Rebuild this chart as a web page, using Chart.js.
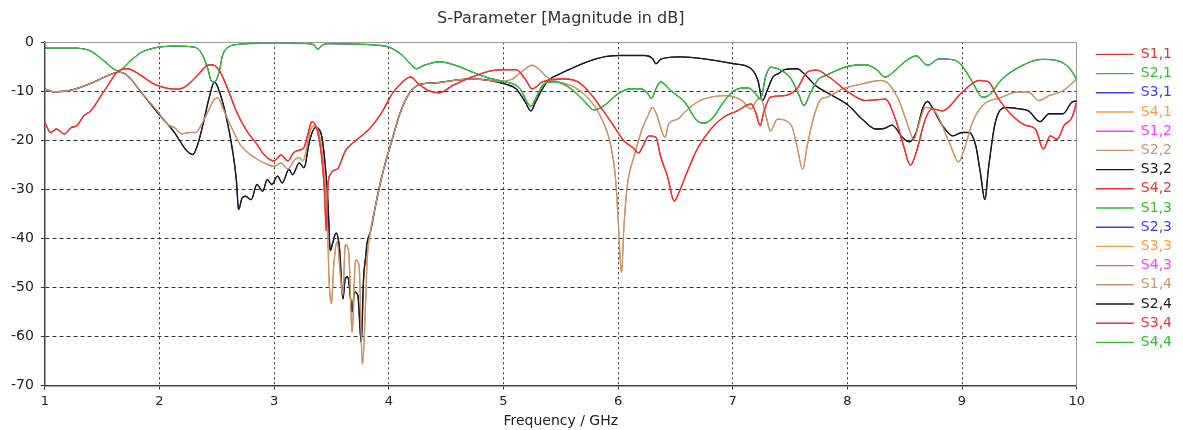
<!DOCTYPE html>
<html>
<head>
<meta charset="utf-8">
<title>S-Parameter [Magnitude in dB]</title>
<script src="https://cdn.jsdelivr.net/npm/chart.js@4.4.1/dist/chart.umd.min.js"></script>
<style>
  html, body { margin: 0; padding: 0; background: #fff; }
  #wrap { width: 1183px; height: 430px; }
</style>
</head>
<body>
<div id="wrap"><canvas id="sparam" width="1183" height="430"></canvas></div>
<script>
"use strict";

// curves (frequency in GHz, magnitude in dB)
const redFreq = [1.0, 1.05, 1.10, 1.17, 1.23, 1.28, 1.34, 1.40, 1.49, 1.55, 1.63, 1.72, 1.84, 1.95, 2.07, 2.16, 2.24, 2.33, 2.42, 2.46, 2.53, 2.59, 2.68, 2.77, 2.85, 2.91, 3.0, 3.06, 3.12, 3.17, 3.22, 3.26, 3.29, 3.33, 3.38, 3.42, 3.44, 3.455, 3.47, 3.49, 3.51, 3.56, 3.62, 3.71, 3.83, 3.94, 4.03, 4.12, 4.19, 4.26, 4.35, 4.44, 4.56, 4.76, 4.93, 5.11, 5.19, 5.25, 5.34, 5.43, 5.53, 5.65, 5.76, 5.88, 5.96, 6.05, 6.13, 6.18, 6.21, 6.27, 6.33, 6.37, 6.43, 6.49, 6.53, 6.60, 6.69, 6.81, 6.92, 7.04, 7.16, 7.20, 7.24, 7.27, 7.33, 7.45, 7.56, 7.65, 7.73, 7.84, 8.01, 8.16, 8.33, 8.42, 8.49, 8.55, 8.60, 8.68, 8.74, 8.83, 9.0, 9.15, 9.23, 9.32, 9.44, 9.55, 9.64, 9.71, 9.77, 9.83, 9.89, 9.96, 10.0];
const redDb = [-16.4, -18.4, -17.7, -18.7, -17.4, -17.0, -15.0, -14.0, -10.9, -8.8, -6.1, -5.4, -6.8, -8.5, -9.4, -9.6, -8.8, -6.8, -4.7, -4.6, -6.1, -9.2, -14.6, -18.4, -20.8, -22.9, -24.2, -23.0, -24.2, -22.5, -22.0, -21.5, -19.1, -16.2, -18.4, -24.6, -31.0, -38.4, -29.0, -27.0, -26.3, -25.6, -22.2, -20.1, -17.7, -14.3, -10.5, -8.1, -7.1, -8.5, -9.9, -10.3, -8.8, -6.8, -5.7, -5.6, -7.5, -9.5, -8.1, -7.6, -7.5, -8.1, -10.5, -14.3, -17.0, -20.1, -21.5, -22.6, -21.5, -19.1, -19.4, -23.2, -27.3, -32.4, -30.7, -26.6, -21.8, -17.7, -15.3, -14.0, -12.6, -14.3, -17.0, -14.3, -11.2, -10.9, -9.5, -6.1, -5.7, -7.1, -10.2, -11.9, -11.6, -15.7, -21.1, -25.1, -22.5, -15.7, -13.6, -14.0, -10.2, -7.8, -8.1, -11.6, -15.0, -16.9, -17.7, -21.8, -19.1, -19.8, -17.0, -15.3, -12.2];

const greenFreq = [1.0, 1.25, 1.40, 1.51, 1.64, 1.75, 1.84, 1.95, 2.13, 2.30, 2.36, 2.42, 2.45, 2.48, 2.52, 2.55, 2.60, 2.71, 2.90, 3.10, 3.30, 3.35, 3.38, 3.42, 3.47, 3.70, 3.90, 4.0, 4.06, 4.12, 4.18, 4.24, 4.30, 4.35, 4.44, 4.58, 4.73, 4.87, 5.0, 5.11, 5.16, 5.19, 5.24, 5.28, 5.34, 5.41, 5.46, 5.59, 5.70, 5.79, 5.88, 6.0, 6.11, 6.20, 6.26, 6.29, 6.33, 6.37, 6.46, 6.58, 6.69, 6.75, 6.83, 6.92, 7.01, 7.13, 7.20, 7.24, 7.29, 7.33, 7.42, 7.51, 7.58, 7.62, 7.68, 7.75, 7.81, 7.90, 8.01, 8.16, 8.25, 8.33, 8.42, 8.50, 8.60, 8.70, 8.80, 8.94, 9.01, 9.09, 9.18, 9.23, 9.35, 9.53, 9.70, 9.82, 9.93, 10.0];
const greenDb = [-1.2, -1.2, -1.8, -3.7, -5.8, -3.7, -2.1, -1.2, -0.8, -1.0, -2.0, -5.3, -7.8, -8.1, -6.1, -2.7, -1.0, -0.4, -0.2, -0.2, -0.3, -0.6, -1.4, -0.6, -0.3, -0.4, -0.6, -1.0, -1.7, -2.7, -4.2, -5.4, -4.8, -4.4, -4.0, -4.7, -6.1, -7.3, -8.0, -8.8, -10.0, -11.5, -13.1, -11.5, -8.8, -8.1, -8.1, -9.5, -11.9, -13.8, -12.9, -10.5, -9.5, -9.5, -10.5, -11.5, -9.5, -8.1, -9.9, -12.2, -16.0, -16.5, -15.3, -12.2, -9.9, -9.3, -10.5, -11.6, -6.8, -5.1, -5.7, -7.5, -10.9, -12.9, -10.2, -7.5, -6.8, -5.8, -4.9, -4.6, -5.5, -7.1, -5.7, -4.0, -2.8, -4.7, -3.4, -3.7, -5.1, -8.1, -11.2, -10.9, -7.5, -4.7, -3.5, -3.7, -5.1, -7.5];

const blackFreq = [1.0, 1.07, 1.20, 1.31, 1.43, 1.55, 1.65, 1.72, 1.84, 1.98, 2.13, 2.24, 2.29, 2.33, 2.39, 2.43, 2.48, 2.52, 2.58, 2.64, 2.67, 2.69, 2.72, 2.75, 2.80, 2.85, 2.90, 2.94, 2.98, 3.03, 3.07, 3.13, 3.16, 3.22, 3.26, 3.31, 3.36, 3.41, 3.45, 3.47, 3.49, 3.51, 3.54, 3.57, 3.60, 3.62, 3.64, 3.67, 3.68, 3.70, 3.73, 3.76, 3.78, 3.80, 3.81, 3.84, 3.88, 3.93, 3.97, 4.03, 4.09, 4.15, 4.21, 4.29, 4.41, 4.56, 4.73, 4.88, 5.01, 5.11, 5.19, 5.24, 5.28, 5.34, 5.40, 5.48, 5.56, 5.73, 5.90, 6.02, 6.23, 6.30, 6.33, 6.37, 6.45, 6.55, 6.84, 7.01, 7.16, 7.22, 7.26, 7.30, 7.35, 7.40, 7.45, 7.56, 7.65, 7.72, 7.84, 8.01, 8.13, 8.25, 8.32, 8.39, 8.48, 8.54, 8.60, 8.66, 8.70, 8.74, 8.83, 8.92, 9.0, 9.06, 9.12, 9.16, 9.20, 9.23, 9.29, 9.38, 9.50, 9.58, 9.68, 9.76, 9.88, 9.96, 10.0];
const blackDb = [-9.5, -10.1, -9.9, -9.2, -8.1, -6.8, -6.1, -6.8, -10.2, -14.3, -18.4, -22.2, -22.9, -21.1, -15.7, -11.6, -8.1, -9.9, -15.0, -22.5, -28.0, -34.1, -31.8, -31.4, -32.1, -29.0, -30.4, -28.0, -29.0, -27.3, -28.7, -25.9, -27.0, -24.6, -25.6, -20.0, -17.4, -18.7, -26.3, -33.0, -42.5, -41.0, -38.9, -42.0, -52.3, -48.2, -47.8, -53.0, -55.0, -50.9, -51.6, -61.2, -48.2, -43.4, -41.0, -38.6, -33.8, -28.3, -24.6, -19.8, -15.0, -11.6, -9.5, -8.5, -8.3, -7.8, -7.5, -7.8, -8.5, -9.5, -12.2, -14.0, -12.2, -9.5, -7.6, -6.6, -5.7, -4.0, -2.9, -2.7, -2.7, -3.3, -4.4, -3.5, -3.1, -3.0, -3.7, -4.4, -5.4, -7.8, -11.9, -9.9, -7.1, -6.4, -5.6, -5.4, -7.1, -8.8, -10.5, -12.9, -15.7, -17.7, -17.6, -16.9, -19.4, -20.3, -18.4, -13.3, -12.1, -13.3, -17.0, -19.1, -18.4, -18.4, -21.1, -26.6, -32.1, -25.9, -16.4, -13.3, -13.6, -14.0, -16.2, -14.6, -14.6, -12.2, -12.0];

const tanFreq = [1.0, 1.07, 1.20, 1.31, 1.43, 1.55, 1.65, 1.72, 1.84, 1.98, 2.07, 2.13, 2.20, 2.26, 2.32, 2.36, 2.42, 2.48, 2.51, 2.55, 2.62, 2.71, 2.83, 2.94, 3.0, 3.06, 3.12, 3.17, 3.22, 3.25, 3.32, 3.36, 3.41, 3.45, 3.47, 3.48, 3.50, 3.52, 3.55, 3.58, 3.60, 3.62, 3.65, 3.68, 3.71, 3.74, 3.77, 3.80, 3.81, 3.84, 3.88, 3.93, 3.97, 4.03, 4.09, 4.15, 4.21, 4.29, 4.41, 4.56, 4.73, 4.88, 4.97, 5.08, 5.17, 5.25, 5.31, 5.38, 5.46, 5.56, 5.62, 5.73, 5.85, 5.94, 5.98, 6.0, 6.03, 6.05, 6.08, 6.14, 6.20, 6.26, 6.30, 6.34, 6.39, 6.41, 6.44, 6.52, 6.58, 6.69, 6.81, 6.95, 7.08, 7.16, 7.20, 7.24, 7.29, 7.33, 7.39, 7.51, 7.56, 7.61, 7.65, 7.71, 7.77, 7.81, 7.96, 8.13, 8.29, 8.36, 8.45, 8.52, 8.58, 8.62, 8.68, 8.77, 8.89, 8.97, 9.02, 9.09, 9.18, 9.35, 9.47, 9.58, 9.67, 9.76, 9.88, 10.0];
const tanDb = [-9.5, -10.1, -9.9, -9.2, -8.1, -6.8, -6.1, -6.8, -10.2, -14.0, -16.7, -17.4, -18.7, -18.4, -18.4, -17.0, -14.3, -11.6, -11.4, -13.3, -17.0, -21.1, -23.5, -24.9, -25.3, -24.6, -25.9, -24.2, -23.5, -24.2, -17.7, -17.0, -21.1, -30.0, -41.3, -48.9, -53.3, -45.4, -40.6, -48.2, -51.6, -41.3, -42.7, -59.1, -44.4, -45.4, -65.6, -51.6, -44.8, -38.6, -33.8, -28.3, -24.6, -19.8, -15.0, -11.6, -9.5, -8.5, -8.3, -7.8, -7.5, -7.8, -8.0, -7.5, -5.8, -4.7, -5.5, -7.1, -8.0, -8.6, -9.2, -11.2, -15.3, -21.5, -28.3, -35.9, -47.0, -38.0, -29.4, -23.2, -18.4, -15.0, -13.3, -15.0, -18.7, -19.4, -16.7, -15.7, -14.3, -12.2, -11.2, -10.9, -11.9, -13.6, -12.2, -11.2, -15.0, -18.1, -15.7, -16.9, -21.1, -25.9, -21.1, -15.0, -11.6, -11.3, -9.5, -8.5, -7.8, -8.5, -11.9, -16.4, -19.8, -17.0, -13.3, -14.3, -20.5, -24.4, -21.8, -16.4, -12.9, -11.2, -10.2, -10.2, -11.9, -10.9, -9.9, -7.5];

// legend entries, their colours and which trace each one shares
const seriesNames = ['S1,1', 'S2,1', 'S3,1', 'S4,1', 'S1,2', 'S2,2', 'S3,2', 'S4,2',
                     'S1,3', 'S2,3', 'S3,3', 'S4,3', 'S1,4', 'S2,4', 'S3,4', 'S4,4'];
const seriesColors = ['#f03030', '#30c030', '#3c3cff', '#ff9a3c', '#ff3cff', '#c8966a', '#1a1a1a', '#f03030',
                      '#30c030', '#3c3cff', '#ff9a3c', '#ff3cff', '#c8966a', '#1a1a1a', '#f03030', '#30c030'];
const seriesTrace = ['red', 'green', 'green', 'red', 'green', 'tan', 'black', 'red',
                     'green', 'black', 'tan', 'red', 'tan', 'black', 'red', 'green'];

const xTicks = { min: 1, max: 10, step: 1 };
const yTicks = { min: -70, max: 0, step: 10 };

const traces = {
  red: [redFreq, redDb],
  green: [greenFreq, greenDb],
  black: [blackFreq, blackDb],
  tan: [tanFreq, tanDb],
};

function points(name) {
  const [freq, db] = traces[name];
  return freq.map((f, i) => ({ x: f, y: db[i] }));
}

const FAMILY = '"DejaVu Sans", Verdana, sans-serif';
const clear = 'rgba(0,0,0,0)';
const LINE = 1.4;

// series sharing a trace sit under the first one, a bit thinner so their edges don't bleed
const datasets = seriesNames.map((name, i) => ({
  label: name,
  data: points(seriesTrace[i]),
  borderColor: seriesColors[i],
  backgroundColor: seriesColors[i],
  borderWidth: seriesTrace.indexOf(seriesTrace[i]) === i ? LINE : 0.8,
  pointRadius: 0,
  fill: false,
  cubicInterpolationMode: 'monotone',
}));

new Chart(document.getElementById('sparam'), {
  type: 'line',
  data: { datasets },
  options: {
    responsive: false,
    animation: false,
    layout: { padding: { left: 4, right: 1, top: 0, bottom: 0 } },
    plugins: {
      tooltip: { enabled: false },
      title: {
        display: true,
        text: 'S-Parameter [Magnitude in dB]',
        fullSize: false,
        color: '#333',
        font: { family: FAMILY, size: 16, weight: 'normal' },
        padding: { top: 9, bottom: 14 },
      },
      legend: {
        position: 'right',
        align: 'start',
        fullSize: false,
        labels: {
          usePointStyle: true,
          pointStyle: 'line',
          pointStyleWidth: 38,
          padding: 5.2,
          font: { family: FAMILY, size: 14 },
          generateLabels: (chart) => Chart.defaults.plugins.legend.labels.generateLabels(chart)
            .map(item => Object.assign(item, { fontColor: item.strokeStyle, lineWidth: LINE })),
        },
      },
    },
    scales: {
      x: {
        type: 'linear',
        position: 'bottom',
        min: xTicks.min,
        max: xTicks.max,
        ticks: { stepSize: xTicks.step, color: '#222', font: { family: FAMILY, size: 13 }, padding: 4, maxRotation: 0 },
        grid: {
          color: (c) => (c.tick && (c.tick.value === xTicks.min || c.tick.value === xTicks.max)) ? clear : '#333',
          tickColor: '#333',
          tickLength: 4,
          lineWidth: 1,
        },
        border: { color: '#444', width: 1.5, dash: [2, 3] },
        title: {
          display: true, text: 'Frequency / GHz', color: '#222',
          font: { family: FAMILY, size: 14 },
          padding: { top: 0, bottom: 0 },
        },
      },
      y: {
        type: 'linear',
        position: 'left',
        min: yTicks.min,
        max: yTicks.max,
        ticks: { stepSize: yTicks.step, color: '#222', font: { family: FAMILY, size: 14 }, padding: 7 },
        grid: {
          color: (c) => (c.tick && (c.tick.value === yTicks.min || c.tick.value === yTicks.max)) ? clear : '#333',
          tickColor: '#333',
          tickLength: 4,
          lineWidth: 1,
        },
        border: { color: '#444', width: 1.5, dash: [4, 3] },
      },
      xTop: {
        type: 'linear',
        position: 'top',
        ticks: { display: false },
        grid: { display: false, drawTicks: false },
        border: { color: '#999', width: 1 },
        afterFit: (s) => { s.height = 0; },
      },
      yRight: {
        type: 'linear',
        position: 'right',
        ticks: { display: false },
        grid: { display: false, drawTicks: false },
        border: { color: '#999', width: 1 },
        afterFit: (s) => { s.width = 14; },
      },
    },
  },
});
</script>
</body>
</html>
